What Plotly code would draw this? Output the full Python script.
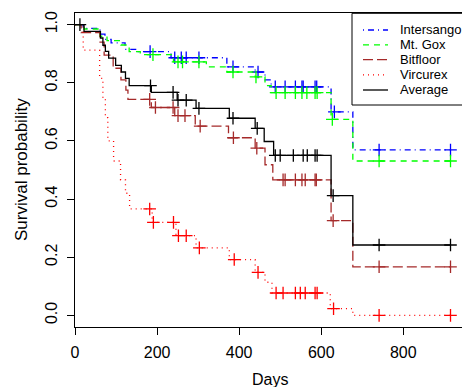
import plotly.graph_objects as go

# ---------------- data ----------------
series_names = ["Intersango", "Mt. Gox", "Bitfloor", "Vircurex", "Average"]

intersango_times = [20, 61, 73, 88, 122, 154, 234, 370, 439, 463, 478, 624, 677]
intersango_surv = [0.987, 0.967, 0.949, 0.937, 0.915, 0.907, 0.886, 0.855, 0.837, 0.81, 0.786, 0.700, 0.569]
intersango_cens = [183, 243, 259, 271, 302, 385, 446, 488, 512, 537, 553, 556, 585, 589, 632, 741, 915]

mtgox_times = [22, 61, 78, 112, 132, 159, 240, 320, 370, 439, 463, 478, 624, 677]
mtgox_surv = [0.985, 0.96, 0.945, 0.93, 0.907, 0.897, 0.872, 0.855, 0.837, 0.82, 0.79, 0.766, 0.674, 0.531]
mtgox_cens = [190, 251, 262, 302, 385, 441, 490, 512, 537, 553, 565, 585, 590, 627, 741, 915]

bitfloor_times = [15, 61, 71, 93, 112, 124, 129, 186, 243, 293, 374, 439, 463, 482, 624, 677]
bitfloor_surv = [0.973, 0.94, 0.895, 0.85, 0.81, 0.775, 0.743, 0.715, 0.687, 0.651, 0.611, 0.575, 0.518, 0.466, 0.326, 0.167]
bitfloor_cens = [182, 196, 239, 251, 268, 305, 386, 443, 507, 512, 537, 553, 561, 585, 588, 629, 741, 915]

vircurex_times = [20, 60, 68, 74, 80, 94, 111, 123, 133, 188, 246, 295, 376, 439, 463, 480, 622, 677]
vircurex_surv = [0.912, 0.815, 0.748, 0.68, 0.60, 0.531, 0.466, 0.42, 0.366, 0.32, 0.274, 0.232, 0.192, 0.148, 0.114, 0.077, 0.023, 0.0]
vircurex_cens = [182, 191, 240, 252, 271, 303, 388, 446, 490, 507, 537, 549, 561, 585, 590, 630, 741, 915]

average_times = [22, 62, 68, 74, 82, 99, 113, 123, 132, 186, 249, 295, 376, 439, 461, 484, 624, 677]
average_surv = [0.977, 0.954, 0.929, 0.908, 0.885, 0.860, 0.837, 0.815, 0.790, 0.767, 0.740, 0.712, 0.678, 0.643, 0.598, 0.550, 0.412, 0.242]
average_cens = [12, 184, 239, 251, 271, 302, 385, 444, 488, 500, 532, 556, 566, 585, 590, 629, 741, 915]

x_ticks = [0, 200, 400, 600, 800]
y_ticks = [0.0, 0.2, 0.4, 0.6, 0.8, 1.0]
y_ticklabels = ["0.0", "0.2", "0.4", "0.6", "0.8", "1.0"]

# ---------------- styles ----------------
colors = ["#0000FF", "#00FF00", "#A52A2A", "#FF0000", "#000000"]
dashes = ["1px,4px,6px,4px", "6px,5px", "10px,4px", "1px,4px", "solid"]

data = [
    (intersango_times, intersango_surv, intersango_cens),
    (mtgox_times, mtgox_surv, mtgox_cens),
    (bitfloor_times, bitfloor_surv, bitfloor_cens),
    (vircurex_times, vircurex_surv, vircurex_cens),
    (average_times, average_surv, average_cens),
]


def surv_at(times, surv, t):
    s = 1.0
    for ti, si in zip(times, surv):
        if ti <= t:
            s = si
    return s


FONT = "Liberation Sans, Arial, Helvetica, sans-serif"
W, H = 462, 387
ML, MR, MT, MB = 75, 0, 13, 60
PW, PH = W - ML - MR, H - MT - MB


def px_x(x):
    return (x - ML) / PW


def px_y(y):
    return (H - MB - y) / PH


fig = go.Figure()
for name, (times, surv, cens), col, dsh in zip(series_names, data, colors, dashes):
    end = max(cens + times)
    xs = [0] + times + [end]
    ys = [1.0] + surv + [surv[-1]]
    fig.add_trace(go.Scatter(
        x=xs, y=ys, mode="lines", name=name, showlegend=False,
        line=dict(color=col, width=1.3, dash=dsh, shape="hv"),
        hoverinfo="skip",
    ))
    fig.add_trace(go.Scatter(
        x=cens, y=[surv_at(times, surv, c) for c in cens], mode="markers",
        showlegend=False,
        marker=dict(symbol="cross-thin", size=9, line=dict(color=col, width=1.3)),
        hoverinfo="skip",
    ))

shapes = []
annotations = []
# legend box
shapes.append(dict(type="rect", xref="paper", yref="paper",
                   x0=px_x(352), x1=px_x(470), y0=px_y(105), y1=px_y(13.3),
                   line=dict(color="black", width=1), fillcolor="white", layer="above"))
leg_y = [30, 44.8, 59.6, 74.8, 90]
for name, col, dsh, ly in zip(series_names, colors, dashes, leg_y):
    shapes.append(dict(type="line", xref="paper", yref="paper",
                       x0=px_x(363), x1=px_x(388), y0=px_y(ly), y1=px_y(ly),
                       line=dict(color=col, width=1.3, dash=dsh), layer="above"))
    annotations.append(dict(text=name, xref="paper", yref="paper",
                            x=px_x(398), y=px_y(ly), xanchor="left", yanchor="middle",
                            showarrow=False, font=dict(family=FONT, size=13, color="black")))

# axis titles
annotations.append(dict(text="Days", xref="paper", yref="paper",
                        x=px_x(270), y=px_y(379), xanchor="center", yanchor="middle",
                        showarrow=False, font=dict(family=FONT, size=16, color="black")))
annotations.append(dict(text="Survival probability", xref="paper", yref="paper",
                        x=px_x(21), y=px_y(170), xanchor="center", yanchor="middle",
                        textangle=-90, showarrow=False,
                        font=dict(family=FONT, size=17, color="black")))

fig.update_layout(
    width=W, height=H,
    margin=dict(l=ML, r=MR, t=MT, b=MB, autoexpand=False),
    paper_bgcolor="white", plot_bgcolor="white",
    font=dict(family=FONT, size=16, color="black"),
    showlegend=False,
    shapes=shapes, annotations=annotations,
    xaxis=dict(
        range=[0, 943], tickvals=x_ticks, ticks="outside", ticklen=7,
        tickwidth=1, tickcolor="black", showline=True, linecolor="black",
        linewidth=1, mirror=True, showgrid=False, zeroline=False,
        automargin=False, tickfont=dict(size=16), ticklabelstandoff=4,
    ),
    yaxis=dict(
        range=[-0.04, 1.04], tickvals=y_ticks, ticktext=y_ticklabels,
        tickangle=-90, ticks="outside", ticklen=7, tickwidth=1,
        tickcolor="black", showline=True, linecolor="black", linewidth=1,
        showgrid=False, zeroline=False, automargin=False,
        tickfont=dict(size=16), ticklabelstandoff=4,
    ),
)

fig.write_html(
    "out.html",
    config={"displayModeBar": False},
    post_script="document.body.style.margin='0px';document.body.style.overflow='hidden';",
)
